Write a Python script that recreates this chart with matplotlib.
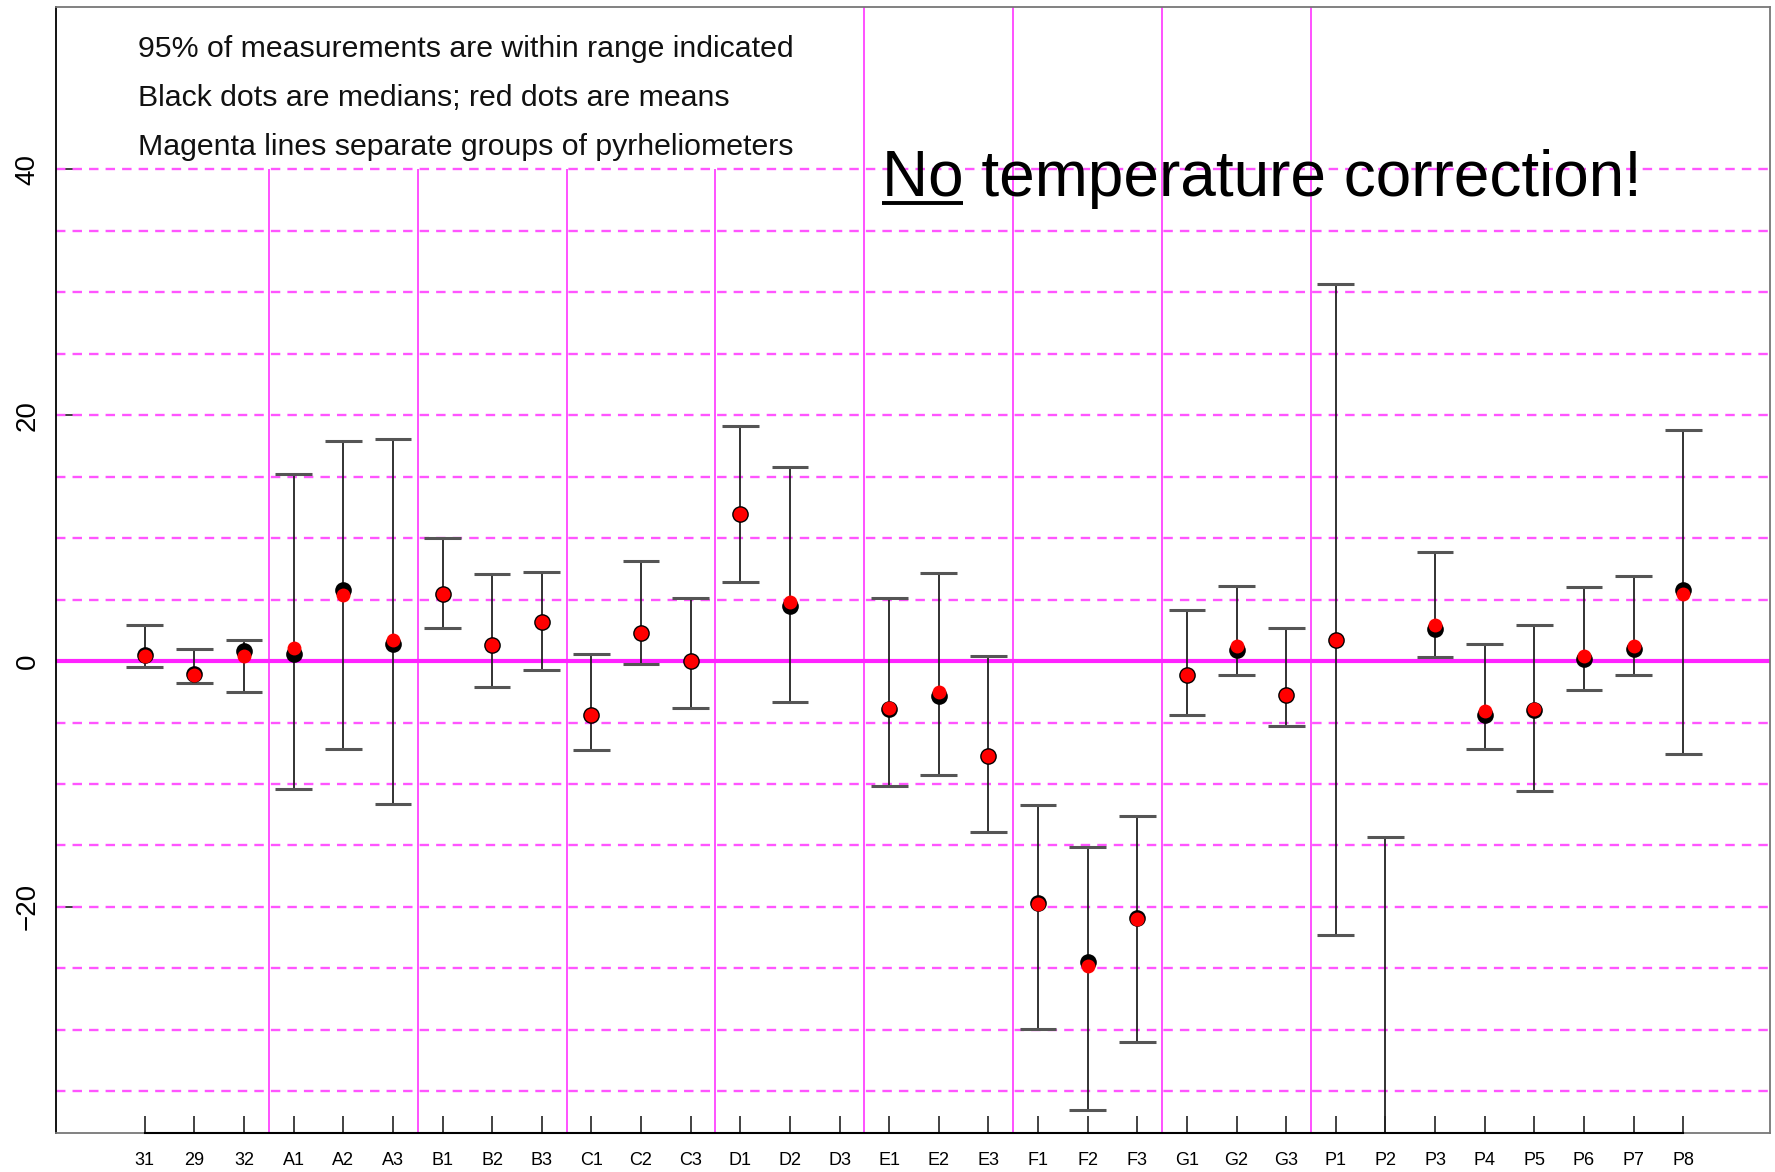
import numpy as np
import matplotlib
matplotlib.use('Agg')
import matplotlib.pyplot as plt
from matplotlib.patches import Rectangle

plt.rcParams['font.family'] = ['Liberation Sans', 'DejaVu Sans']

# pyrheliometer ids along the x axis
labels = ['31', '29', '32', 'A1', 'A2', 'A3', 'B1', 'B2', 'B3', 'C1', 'C2', 'C3',
          'D1', 'D2', 'D3', 'E1', 'E2', 'E3', 'F1', 'F2', 'F3', 'G1', 'G2', 'G3',
          'P1', 'P2', 'P3', 'P4', 'P5', 'P6', 'P7', 'P8']

# 95% range (upper / lower limits), D3 has no data, P2 lower end is off the chart
upper = [2.9, 1.0, 1.7, 15.25, 17.9, 18.1, 10.0, 7.05, 7.25, 0.55, 8.1, 5.15,
         19.1, 15.8, np.nan, 5.1, 7.2, 0.4, -11.75, -15.1, -12.6, 4.15, 6.1, 2.7,
         30.7, -14.3, 8.85, 1.4, 2.95, 6.05, 6.95, 18.8]
lower = [-0.45, -1.75, -2.5, -10.4, -7.15, -11.65, 2.7, -2.15, -0.7, -7.25, -0.25, -3.85,
         6.4, -3.35, np.nan, -10.2, -9.3, -13.9, -29.9, -36.5, -31.0, -4.4, -1.1, -5.3,
         -22.3, -45.0, 0.35, -7.15, -10.55, -2.35, -1.1, -7.55]

# black dots = medians, red dots = means
medians = [0.5, -1.05, 0.8, 0.55, 5.8, 1.35, 5.45, 1.3, 3.2, -4.4, 2.3, 0.0,
           12.0, 4.5, np.nan, -3.9, -2.85, -7.7, -19.7, -24.5, -20.9, -1.15, 0.9, -2.8,
           1.75, np.nan, 2.6, -4.35, -3.95, 0.15, 1.0, 5.8]
means = [0.45, -1.1, 0.45, 1.1, 5.35, 1.7, 5.45, 1.3, 3.2, -4.4, 2.3, 0.0,
         12.0, 4.8, np.nan, -3.85, -2.5, -7.7, -19.8, -24.8, -21.0, -1.15, 1.2, -2.75,
         1.75, np.nan, 2.9, -4.1, -3.9, 0.4, 1.25, 5.45]

# group separators (between pyrheliometer groups)
separators = [3.5, 6.5, 9.5, 12.5, 15.5, 18.5, 21.5, 24.5]

notes = ['95% of measurements are within range indicated',
         'Black dots are medians; red dots are means',
         'Magenta lines separate groups of pyrheliometers']

x = np.arange(1, len(labels) + 1)

fig = plt.figure(figsize=(17.75, 11.72), dpi=100)
ax = fig.add_axes([0.0315, 0.0337, 0.9657, 0.9603])
ax.set_xlim(-0.79, 33.75)
ax.set_ylim(-38.35, 53.2)

# grid
for v in np.arange(-35, 45, 5):
    if v == 0:
        continue
    ax.axhline(v, color='#ff55ff', lw=1.7, dashes=(4, 3), zorder=2)
ax.axhline(0, color='#ff22ff', lw=3, zorder=2.5)
for s in separators:
    ax.axvline(s, color='#ff33ff', lw=1.2, zorder=1)

# white box behind the notes
ax.add_patch(Rectangle((-0.79, 40), 14.5 + 0.79, 20, facecolor='white',
                       edgecolor='none', zorder=1.5))

# error bars
ax.vlines(x, lower, upper, color='#222222', lw=1.3, zorder=3)
ax.hlines(upper, x - 0.37, x + 0.37, color='#555555', lw=2.2, zorder=3)
ax.hlines(lower, x - 0.37, x + 0.37, color='#555555', lw=2.2, zorder=3)

ax.plot(x, medians, 'o', color='black', ms=12, mew=0, zorder=5)
ax.plot(x, means, 'o', color='red', ms=10, mew=0, zorder=6)

# axes style
for side in ['top', 'right']:
    ax.spines[side].set_color('#777777')
ax.spines['bottom'].set_color('#777777')
ax.spines['left'].set_color('black')
for sp in ax.spines.values():
    sp.set_linewidth(1.3)
ylo = ax.get_ylim()[0]
ax.plot([x[0], x[-1]], [ylo, ylo], color='black', lw=1.5, clip_on=False, zorder=7)

ax.set_xticks(x)
ax.set_xticklabels(labels, fontsize=13)
ax.set_yticks([-20, 0, 20, 40])
ax.set_yticklabels(['\u221220', '0', '20', '40'], rotation=90, va='center', fontsize=20)
ax.tick_params(axis='both', direction='in', length=12.5, width=1.2, color='#222222')
ax.tick_params(axis='x', pad=14)
ax.tick_params(axis='y', pad=11)

for i, t in enumerate(notes):
    ax.text(0.86, 49.1 - 3.95 * i, t, fontsize=21.8, color='#111111', va='baseline', zorder=8)

big = ax.text(15.85, 37.85, 'No temperature correction!', fontsize=46, va='baseline', zorder=8)
no = ax.text(15.85, 37.85, 'No', fontsize=46, va='baseline', alpha=0)
fig.canvas.draw()
bb = no.get_window_extent(fig.canvas.get_renderer())
x0, _ = ax.transData.inverted().transform((bb.x0, bb.y0))
x1, _ = ax.transData.inverted().transform((bb.x1, bb.y0))
ax.plot([x0, x1], [37.25, 37.25], color='black', lw=2.8, solid_capstyle='butt', zorder=8)

fig.savefig('out.png', dpi=100)
